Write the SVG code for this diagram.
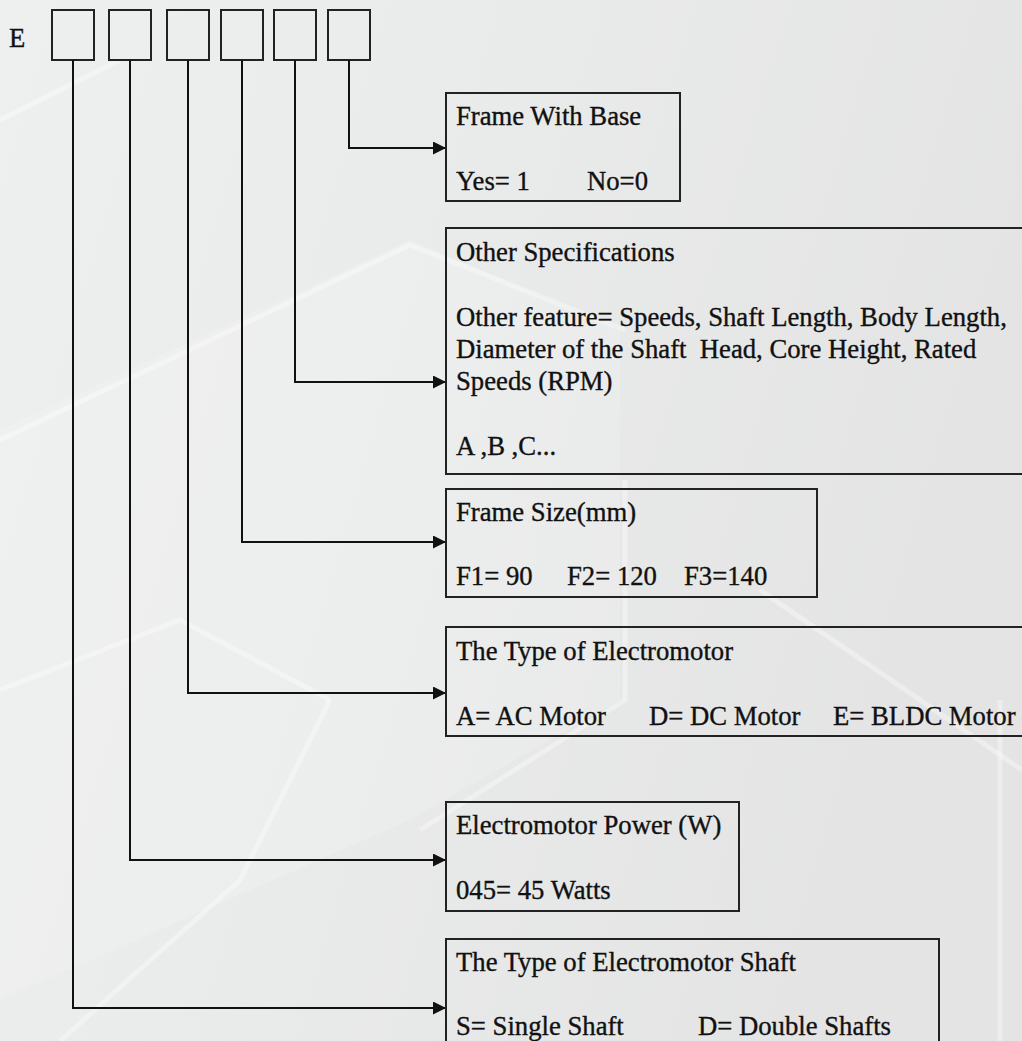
<svg xmlns="http://www.w3.org/2000/svg" width="1022" height="1041" viewBox="0 0 1022 1041">
  <defs>
    <linearGradient id="bg" x1="0" y1="0" x2="1" y2="0.3">
      <stop offset="0" stop-color="#eef0f0"/>
      <stop offset="0.5" stop-color="#e9eaea"/>
      <stop offset="1" stop-color="#e4e4e4"/>
    </linearGradient>
    <marker id="arrow" markerUnits="userSpaceOnUse" markerWidth="14" markerHeight="14" refX="13" refY="6.5" orient="auto">
      <path d="M0,0 L13,6.5 L0,13 Z" fill="#111"/>
    </marker>
    <style>
      .t { font-family: "Liberation Serif", "Times New Roman", serif; font-size: 26.7px; fill: #111; stroke: #111; stroke-width: 0.35; white-space: pre; }
      .box { fill: none; stroke: #222; stroke-width: 2; }
      .conn { fill: none; stroke: #111; stroke-width: 2; }
      .deco { fill: none; stroke: #ffffff; stroke-opacity: 0.35; stroke-width: 5; }
      .decof { fill: #ffffff; fill-opacity: 0.15; stroke: none; }
    </style>
  </defs>

  <rect x="0" y="0" width="1022" height="1041" fill="url(#bg)"/>
  <g id="background">
    <polygon class="decof" points="0,430 410,240 620,330 620,700 410,820 0,1000"/>
    <path class="deco" d="M0,440 L410,245 L625,330"/>
    <path class="deco" d="M625,480 L625,700 L420,830"/>
    <path class="deco" d="M0,690 L180,620 L330,700"/>
    <path class="deco" d="M60,1041 L240,880 L330,700"/>
    <path class="deco" d="M760,590 L1022,770"/>
    <path class="deco" d="M1000,700 L1000,1041"/>
    <path class="deco" d="M0,120 L120,60"/>
  </g>

  <g id="code">
    <text class="t" x="9" y="47">E</text>
    <rect class="box" x="52" y="10" width="42" height="50"/>
    <rect class="box" x="109" y="10" width="42" height="50"/>
    <rect class="box" x="167" y="10" width="42" height="50"/>
    <rect class="box" x="221" y="10" width="42" height="50"/>
    <rect class="box" x="274" y="10" width="42" height="50"/>
    <rect class="box" x="328" y="10" width="42" height="50"/>
  </g>

  <g id="connectors">
    <path class="conn" d="M349,60 V148 H446" marker-end="url(#arrow)"/>
    <path class="conn" d="M295,60 V382 H446" marker-end="url(#arrow)"/>
    <path class="conn" d="M242,60 V542 H446" marker-end="url(#arrow)"/>
    <path class="conn" d="M188,60 V693 H446" marker-end="url(#arrow)"/>
    <path class="conn" d="M130,60 V860 H446" marker-end="url(#arrow)"/>
    <path class="conn" d="M73,60 V1008 H446" marker-end="url(#arrow)"/>
  </g>

  <g id="frame-with-base">
    <rect class="box" x="446" y="93" width="234" height="108"/>
    <text class="t" x="456" y="125">Frame With Base</text>
    <text class="t" y="190"><tspan x="456">Yes= 1</tspan><tspan x="587">No=0</tspan></text>
  </g>

  <g id="other-specifications">
    <rect class="box" x="446" y="228" width="600" height="246"/>
    <text class="t" x="456" y="261">Other Specifications</text>
    <text class="t" x="456" y="326">Other feature= Speeds, Shaft Length, Body Length,</text>
    <text class="t" x="456" y="358">Diameter of the Shaft  Head, Core Height, Rated</text>
    <text class="t" x="456" y="390">Speeds (RPM)</text>
    <text class="t" x="456" y="455">A ,B ,C...</text>
  </g>

  <g id="frame-size">
    <rect class="box" x="446" y="489" width="371" height="108"/>
    <text class="t" x="456" y="521">Frame Size(mm)</text>
    <text class="t" y="585"><tspan x="456">F1= 90</tspan><tspan x="567">F2= 120</tspan><tspan x="684">F3=140</tspan></text>
  </g>

  <g id="type-of-electromotor">
    <rect class="box" x="446" y="627" width="600" height="109"/>
    <text class="t" x="456" y="660">The Type of Electromotor</text>
    <text class="t" y="725"><tspan x="456">A= AC Motor</tspan><tspan x="649">D= DC Motor</tspan><tspan x="833">E= BLDC Motor</tspan></text>
  </g>

  <g id="electromotor-power">
    <rect class="box" x="446" y="802" width="293" height="109"/>
    <text class="t" x="456" y="834">Electromotor Power (W)</text>
    <text class="t" x="456" y="899">045= 45 Watts</text>
  </g>

  <g id="type-of-shaft">
    <rect class="box" x="446" y="939" width="493" height="130"/>
    <text class="t" x="456" y="971">The Type of Electromotor Shaft</text>
    <text class="t" y="1035"><tspan x="456">S= Single Shaft</tspan><tspan x="698">D= Double Shafts</tspan></text>
  </g>
</svg>
